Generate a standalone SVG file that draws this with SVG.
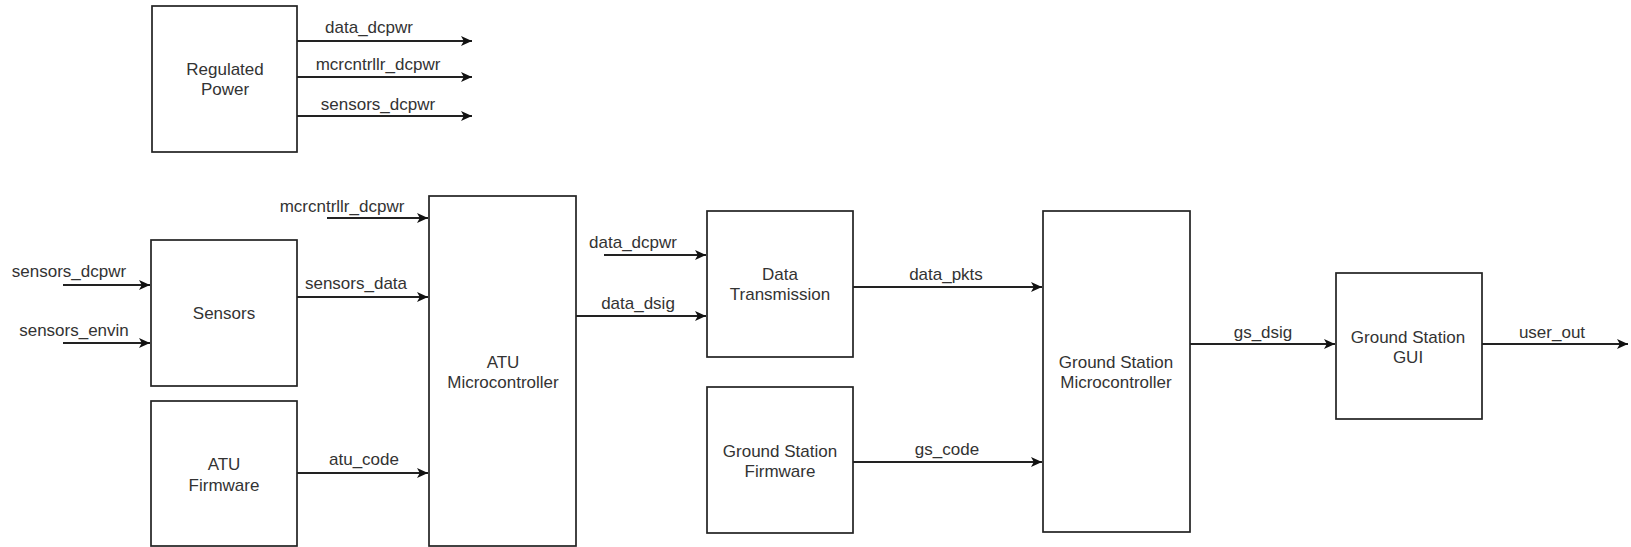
<svg xmlns="http://www.w3.org/2000/svg" width="1631" height="547" viewBox="0 0 1631 547">
<style>
.box{fill:#fff;stroke:#222;stroke-width:1.7}
.lbl{font-family:"Liberation Sans",Arial,sans-serif;font-size:17px;fill:#333;text-anchor:middle}
.c{stroke:#222;stroke-width:1.8;fill:none;marker-end:url(#arr)}
</style>
<defs>
<marker id="arr" markerUnits="userSpaceOnUse" markerWidth="12" markerHeight="11" refX="11" refY="5" orient="auto">
<path d="M0,0 L11,5 L0,10 L2.8,5 Z" fill="#111"/>
</marker>
</defs>
<rect width="1631" height="547" fill="#fff"/>
<g id="regulated-power"><rect class="box" x="152" y="6" width="145" height="146"/><text class="lbl" x="225" y="75">Regulated</text><text class="lbl" x="225" y="95">Power</text></g>
<g id="sensors"><rect class="box" x="151" y="240" width="146" height="146"/><text class="lbl" x="224" y="319">Sensors</text></g>
<g id="atu-firmware"><rect class="box" x="151" y="401" width="146" height="145"/><text class="lbl" x="224" y="470">ATU</text><text class="lbl" x="224" y="491">Firmware</text></g>
<g id="atu-microcontroller"><rect class="box" x="429" y="196" width="147" height="350"/><text class="lbl" x="503" y="368">ATU</text><text class="lbl" x="503" y="388">Microcontroller</text></g>
<g id="data-transmission"><rect class="box" x="707" y="211" width="146" height="146"/><text class="lbl" x="780" y="280">Data</text><text class="lbl" x="780" y="300">Transmission</text></g>
<g id="gs-firmware"><rect class="box" x="707" y="387" width="146" height="146"/><text class="lbl" x="780" y="457">Ground Station</text><text class="lbl" x="780" y="477">Firmware</text></g>
<g id="gs-microcontroller"><rect class="box" x="1043" y="211" width="147" height="321"/><text class="lbl" x="1116" y="368">Ground Station</text><text class="lbl" x="1116" y="388">Microcontroller</text></g>
<g id="gs-gui"><rect class="box" x="1336" y="273" width="146" height="146"/><text class="lbl" x="1408" y="343">Ground Station</text><text class="lbl" x="1408" y="363">GUI</text></g>
<g id="connectors">
<line class="c" x1="297" y1="41" x2="472" y2="41"/>
<line class="c" x1="297" y1="77" x2="472" y2="77"/>
<line class="c" x1="297" y1="116" x2="472" y2="116"/>
<line class="c" x1="327" y1="218" x2="428" y2="218"/>
<line class="c" x1="63" y1="285" x2="150" y2="285"/>
<line class="c" x1="63" y1="343" x2="150" y2="343"/>
<line class="c" x1="297" y1="297" x2="428" y2="297"/>
<line class="c" x1="297" y1="473" x2="428" y2="473"/>
<line class="c" x1="604" y1="255" x2="706" y2="255"/>
<line class="c" x1="576" y1="316" x2="706" y2="316"/>
<line class="c" x1="853" y1="287" x2="1042" y2="287"/>
<line class="c" x1="853" y1="462" x2="1042" y2="462"/>
<line class="c" x1="1190" y1="344" x2="1335" y2="344"/>
<line class="c" x1="1482" y1="344" x2="1628" y2="344"/>
<text class="lbl" x="369" y="33">data_dcpwr</text>
<text class="lbl" x="378" y="70">mcrcntrllr_dcpwr</text>
<text class="lbl" x="378" y="110">sensors_dcpwr</text>
<text class="lbl" x="342" y="212">mcrcntrllr_dcpwr</text>
<text class="lbl" x="69" y="277">sensors_dcpwr</text>
<text class="lbl" x="74" y="336">sensors_envin</text>
<text class="lbl" x="356" y="289">sensors_data</text>
<text class="lbl" x="364" y="465">atu_code</text>
<text class="lbl" x="633" y="248">data_dcpwr</text>
<text class="lbl" x="638" y="309">data_dsig</text>
<text class="lbl" x="946" y="280">data_pkts</text>
<text class="lbl" x="947" y="455">gs_code</text>
<text class="lbl" x="1263" y="338">gs_dsig</text>
<text class="lbl" x="1552" y="338">user_out</text>
</g>
</svg>
